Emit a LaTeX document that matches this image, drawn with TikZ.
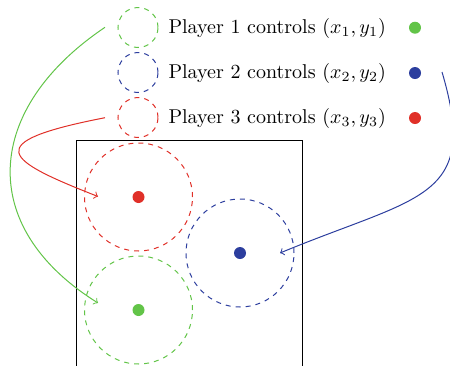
\documentclass[tikz,border=0pt]{standalone}
\definecolor{pg}{RGB}{98,196,72}
\definecolor{pb}{RGB}{44,62,158}
\definecolor{pr}{RGB}{224,48,40}
\begin{document}
\begin{tikzpicture}[x=0.5pt,y=-0.5pt,line width=0.5pt,
  smallring/.style={circle,draw,dash pattern=on 2.5pt off 2.5pt,minimum size=20pt,inner sep=0pt},
  bigring/.style={circle,draw,dash pattern=on 2.5pt off 2.5pt,minimum size=54pt,inner sep=0pt},
  dot/.style={circle,fill,minimum size=6pt,inner sep=0pt},
  label/.style={anchor=base west,inner sep=0pt},
  link/.style={->}]
\useasboundingbox (0,0) rectangle (450,365);
% frame
\draw[line width=0.45pt] (76,140) rectangle (302,390);
% legend
\node[smallring,pg] (s1) at (138,27.5) {};
\node[smallring,pb] (s2) at (138,72.5) {};
\node[smallring,pr] (s3) at (138,117.5) {};
\node[label] (t1) at (168,33.3) {Player 1 controls $(x_1,y_1)$};
\node[label] (t2) at (168,78.5) {Player 2 controls $(x_2,y_2)$};
\node[label] (t3) at (168,123.5) {Player 3 controls $(x_3,y_3)$};
\node[dot,pg] (d1) at (415,27.7) {};
\node[dot,pb] (d2) at (415,73) {};
\node[dot,pr] (d3) at (415,118) {};
% big rings
\node[bigring,pr] (R) at (138.5,197) {};
\node[bigring,pb] (B) at (240,253) {};
\node[bigring,pg] (G) at (138.5,310) {};
\node[dot,pr] (rd) at (138.5,197) {};
\node[dot,pb] (bd) at (240,253) {};
\node[dot,pg] (gd) at (138.5,310) {};
% connector ends
\coordinate (g0) at (105,27.3);
\coordinate (g1) at (98,303);
\coordinate (r0) at (105,117.7);
\coordinate (r1) at (98,196.5);
\coordinate (b0) at (442,72);
\coordinate (b1) at (280,253);
\draw[link,pg] (g0) .. controls (-15,108) and (-25,226) .. (g1);
\draw[link,pr] (r0) .. controls (-22,142.4) and (5,160) .. (r1);
\draw[link,pb] (b0) .. controls (480,200) and (420,195) .. (b1);
\end{tikzpicture}
\end{document}
